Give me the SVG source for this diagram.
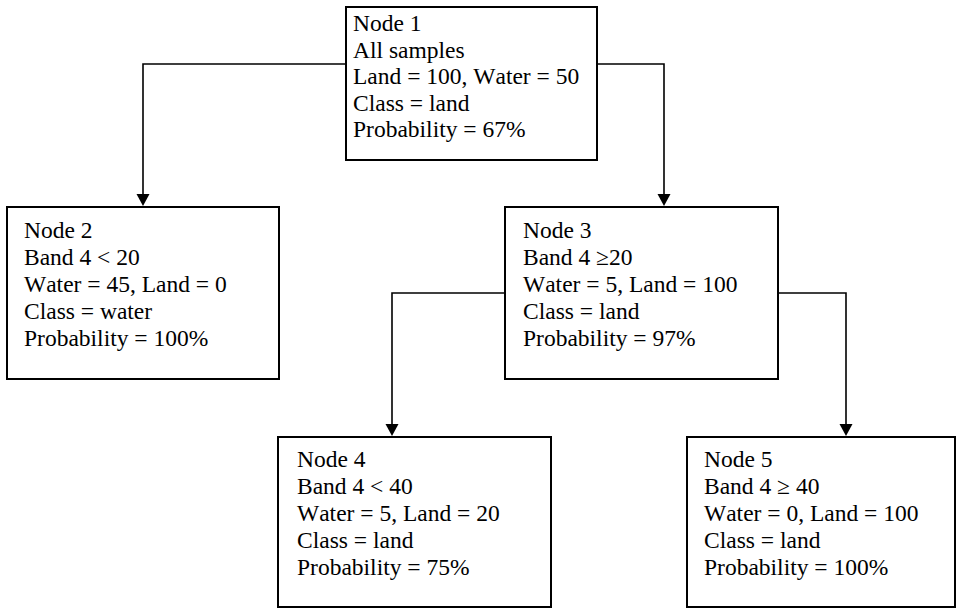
<svg xmlns="http://www.w3.org/2000/svg" width="956" height="609" viewBox="0 0 956 609">
<style>
.box{fill:#fff;stroke:#000;stroke-width:2}
.t{font-family:'Liberation Serif','Times New Roman',serif;font-size:23.5px;fill:#000;font-kerning:none}
.c{fill:none;stroke:#000;stroke-width:1.6}
.ah{fill:#000}
</style>
<rect width="956" height="609" fill="#fff"/>
<g id="connectors">
<path class="c" d="M346,64 H143 V194"/>
<polygon class="ah" points="136.5,194 149.5,194 143,206"/>
<path class="c" d="M597,64 H664 V194"/>
<polygon class="ah" points="657.5,194 670.5,194 664,206"/>
<path class="c" d="M505,293 H392 V424"/>
<polygon class="ah" points="385.5,424 398.5,424 392,436"/>
<path class="c" d="M778,293 H846 V424"/>
<polygon class="ah" points="839.5,424 852.5,424 846,436"/>
</g>
<g id="node1">
<rect class="box" x="346" y="7" width="251" height="153"/>
<text class="t" x="353" y="31">Node 1</text>
<text class="t" x="353" y="57.5">All samples</text>
<text class="t" x="353" y="84">Land = 100, Water = 50</text>
<text class="t" x="353" y="110.5">Class = land</text>
<text class="t" x="353" y="137">Probability = 67%</text>
</g>
<g id="node2">
<rect class="box" x="7" y="207" width="272" height="172"/>
<text class="t" x="24" y="238">Node 2</text>
<text class="t" x="24" y="265">Band 4 &lt; 20</text>
<text class="t" x="24" y="292">Water = 45, Land = 0</text>
<text class="t" x="24" y="319">Class = water</text>
<text class="t" x="24" y="346">Probability = 100%</text>
</g>
<g id="node3">
<rect class="box" x="505" y="207" width="273" height="172"/>
<text class="t" x="523" y="238">Node 3</text>
<text class="t" x="523" y="265">Band 4 ≥20</text>
<text class="t" x="523" y="292">Water = 5, Land = 100</text>
<text class="t" x="523" y="319">Class = land</text>
<text class="t" x="523" y="346">Probability = 97%</text>
</g>
<g id="node4">
<rect class="box" x="278" y="437" width="273" height="170"/>
<text class="t" x="297" y="467">Node 4</text>
<text class="t" x="297" y="494">Band 4 &lt; 40</text>
<text class="t" x="297" y="521">Water = 5, Land = 20</text>
<text class="t" x="297" y="548">Class = land</text>
<text class="t" x="297" y="575">Probability = 75%</text>
</g>
<g id="node5">
<rect class="box" x="687" y="437" width="268" height="170"/>
<text class="t" x="704" y="467">Node 5</text>
<text class="t" x="704" y="494">Band 4 ≥ 40</text>
<text class="t" x="704" y="521">Water = 0, Land = 100</text>
<text class="t" x="704" y="548">Class = land</text>
<text class="t" x="704" y="575">Probability = 100%</text>
</g>
</svg>
